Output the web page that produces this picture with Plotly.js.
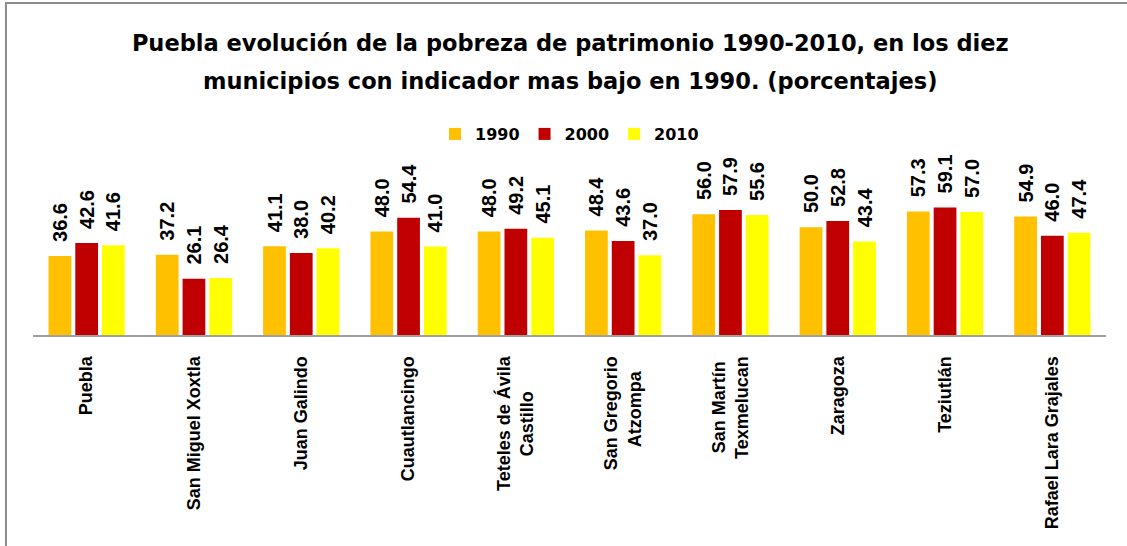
<!DOCTYPE html>
<html>
<head>
<meta charset="utf-8">
<script src="https://cdn.plot.ly/plotly-3.0.1.min.js"></script>
<style>
html,body{margin:0;padding:0;background:#fff;}
#chart{width:1127px;height:546px;}
</style>
</head>
<body>
<div id="chart"></div>
<script>
var categories = ["Puebla","San Miguel Xoxtla","Juan Galindo","Cuautlancingo","Teteles de Ávila<br>Castillo","San Gregorio<br>Atzompa","San Martín<br>Texmelucan","Zaragoza","Teziutlán","Rafael Lara Grajales"];
var tickLabels = ["Puebla","San Miguel Xoxtla","Juan Galindo","Cuautlancingo","Teteles de Ávila<br>Castillo\u00a0\u00a0\u00a0\u00a0\u00a0\u00a0\u00a0","San Gregorio<br>Atzompa\u00a0\u00a0\u00a0","San Martín\u00a0<br>Texmelucan","Zaragoza","Teziutlán","Rafael Lara Grajales"];
var seriesNames = ["1990","2000","2010"];
var v1990 = [36.6, 37.2, 41.1, 48.0, 48.0, 48.4, 56.0, 50.0, 57.3, 54.9];
var v2000 = [42.6, 26.1, 38.0, 54.4, 49.2, 43.6, 57.9, 52.8, 59.1, 46.0];
var v2010 = [41.6, 26.4, 40.2, 41.0, 45.1, 37.0, 55.6, 43.4, 57.0, 47.4];
var colors = ["#FFC000","#C00000","#FFFF00"];

var labelFont = {family:"Liberation Sans, Arial, sans-serif", size:20, color:"#000", weight:"bold"};

function mk(name, vals, color){
  return {
    type:"bar", name:name, x:categories, y:vals,
    marker:{color:color, line:{width:0}},
    texttemplate:"\u00a0\u00a0%{y:.1f}",
    textposition:"outside", textangle:-90,
    textfont:labelFont, constraintext:"none", cliponaxis:false,
    hoverinfo:"x+y"
  };
}
var data = [mk(seriesNames[0], v1990, colors[0]), mk(seriesNames[1], v2000, colors[1]), mk(seriesNames[2], v2010, colors[2])];

var layout = {
  width:1127, height:546,
  margin:{l:33, r:21, t:184, b:211},
  paper_bgcolor:"#fff", plot_bgcolor:"#fff",
  barmode:"group", bargap:0.252, bargroupgap:0.15,
  title:{
    text:"<span style='font-size:22.5px'>Puebla evolución de la pobreza de patrimonio 1990-2010, en los diez</span><br><span style='font-size:22.5px'>municipios con indicador mas bajo en 1990. (porcentajes)</span>",
    font:{family:"DejaVu Sans, sans-serif", size:29, color:"#000", weight:"bold"},
    x:0.506, xanchor:"center", xref:"container",
    y:0.906, yanchor:"top", yref:"container"
  },
  showlegend:true,
  legend:{
    orientation:"h", x:0.5, xanchor:"center", y:1.331, yanchor:"middle",
    font:{family:"DejaVu Sans, sans-serif", size:16, color:"#000", weight:"bold"},
    bgcolor:"rgba(0,0,0,0)", traceorder:"normal"
  },
  xaxis:{
    type:"category", tickvals:categories, ticktext:tickLabels,
    tickangle:-90, showline:true, linecolor:"#A0A0A0", linewidth:2,
    ticks:"", showgrid:false, zeroline:false, ticklabelstandoff:12,
    tickfont:{family:"Liberation Sans, Arial, sans-serif", size:18, color:"#000", weight:"bold"},
    fixedrange:true
  },
  yaxis:{
    range:[0,70], visible:false, showgrid:false, zeroline:false, fixedrange:true
  },
  shapes:[{
    type:"rect", xref:"paper", yref:"paper",
    x0:-0.0252, x1:1.0224, y0:-1.424, y1:2.1987,
    line:{color:"#8C8C8C", width:2}, fillcolor:"rgba(0,0,0,0)", layer:"below"
  }]
};

Plotly.newPlot("chart", data, layout, {displayModeBar:false, staticPlot:true});
</script>
</body>
</html>
